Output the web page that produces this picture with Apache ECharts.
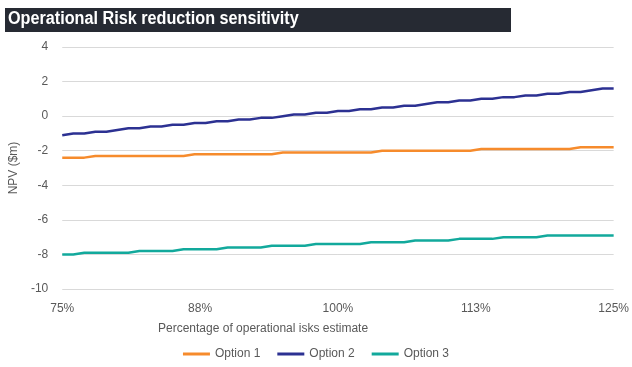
<!DOCTYPE html>
<html>
<head>
<meta charset="utf-8">
<script src="https://cdn.jsdelivr.net/npm/echarts@6/dist/echarts.min.js"></script>
<style>
  html, body { margin: 0; padding: 0; background: #ffffff; }
  #chart { width: 632px; height: 367px; }
</style>
</head>
<body>
<div id="chart"></div>
<script>
// Percentage of the operational risks estimate (x values, %)
const pctValues = [
  75, 76, 77, 78, 79, 80, 81, 82, 83, 84,
  85, 86, 87, 88, 89, 90, 91, 92, 93, 94,
  95, 96, 97, 98, 99, 100, 101, 102, 103, 104,
  105, 106, 107, 108, 109, 110, 111, 112, 113, 114,
  115, 116, 117, 118, 119, 120, 121, 122, 123, 124, 125
];

// NPV ($m) for each option
const option1 = [
  -2.4, -2.4, -2.4, -2.3, -2.3, -2.3, -2.3, -2.3, -2.3, -2.3,
  -2.3, -2.3, -2.2, -2.2, -2.2, -2.2, -2.2, -2.2, -2.2, -2.2,
  -2.1, -2.1, -2.1, -2.1, -2.1, -2.1, -2.1, -2.1, -2.1, -2.0,
  -2.0, -2.0, -2.0, -2.0, -2.0, -2.0, -2.0, -2.0, -1.9, -1.9,
  -1.9, -1.9, -1.9, -1.9, -1.9, -1.9, -1.9, -1.8, -1.8, -1.8, -1.8
];
const option2 = [
  -1.1, -1.0, -1.0, -0.9, -0.9, -0.8, -0.7, -0.7, -0.6, -0.6,
  -0.5, -0.5, -0.4, -0.4, -0.3, -0.3, -0.2, -0.2, -0.1, -0.1,
  0.0, 0.1, 0.1, 0.2, 0.2, 0.3, 0.3, 0.4, 0.4, 0.5,
  0.5, 0.6, 0.6, 0.7, 0.8, 0.8, 0.9, 0.9, 1.0, 1.0,
  1.1, 1.1, 1.2, 1.2, 1.3, 1.3, 1.4, 1.4, 1.5, 1.6, 1.6
];
const option3 = [
  -8.0, -8.0, -7.9, -7.9, -7.9, -7.9, -7.9, -7.8, -7.8, -7.8,
  -7.8, -7.7, -7.7, -7.7, -7.7, -7.6, -7.6, -7.6, -7.6, -7.5,
  -7.5, -7.5, -7.5, -7.4, -7.4, -7.4, -7.4, -7.4, -7.3, -7.3,
  -7.3, -7.3, -7.2, -7.2, -7.2, -7.2, -7.1, -7.1, -7.1, -7.1,
  -7.0, -7.0, -7.0, -7.0, -6.9, -6.9, -6.9, -6.9, -6.9, -6.9, -6.9
];

const seriesNames = ['Option 1', 'Option 2', 'Option 3'];
const seriesColors = ['#f68b2c', '#2c3192', '#12a99c'];
const seriesValues = [option1, option2, option3];

const titleText = 'Operational Risk reduction sensitivity';
const xAxisTitle = 'Percentage of operational isks estimate';
const yAxisTitle = 'NPV ($m)';

const axisFont = '"Liberation Sans", Arial, sans-serif';
const labelColor = '#595959';

const chart = echarts.init(document.getElementById('chart'), null, { renderer: 'canvas' });

chart.setOption({
  animation: false,
  backgroundColor: '#ffffff',
  graphic: [
    {
      type: 'rect',
      left: 5, top: 8,
      shape: { width: 506, height: 24 },
      style: { fill: '#262a33' },
      silent: true
    },
    {
      // condensed bold heading: squeeze horizontally
      type: 'text',
      x: 8, y: 10,
      scaleX: 0.9,
      style: {
        text: titleText,
        fill: '#ffffff',
        font: 'bold 18px "Liberation Sans Narrow", "Liberation Sans", Arial, sans-serif'
      }
    },
    {
      type: 'text',
      left: 158, top: 323,
      style: {
        text: xAxisTitle,
        fill: labelColor,
        font: '12px ' + axisFont
      }
    }
  ],
  legend: {
    bottom: 2,
    left: 'center',
    icon: 'rect',
    itemWidth: 27,
    itemHeight: 3,
    itemGap: 17,
    textStyle: { color: labelColor, fontSize: 12, fontFamily: axisFont },
    data: seriesNames
  },
  grid: { left: 62, right: 17, top: 47, bottom: 78, containLabel: false },
  xAxis: {
    type: 'value',
    min: 75,
    max: 125,
    interval: 12.5,
    axisLine: { show: false },
    axisTick: { show: false },
    splitLine: { show: false },
    axisLabel: {
      color: labelColor,
      fontSize: 12,
      fontFamily: axisFont,
      margin: 14,
      formatter: v => Math.round(v) + '%'
    }
  },
  yAxis: {
    type: 'value',
    min: -10,
    max: 4,
    interval: 2,
    name: yAxisTitle,
    nameLocation: 'middle',
    nameRotate: 90,
    nameGap: 40,
    nameTextStyle: { color: labelColor, fontSize: 12, fontFamily: axisFont },
    axisLine: { show: false },
    axisTick: { show: false },
    splitLine: { lineStyle: { color: '#d9d9d9', width: 1 } },
    axisLabel: { color: labelColor, fontSize: 12, fontFamily: axisFont, margin: 14 }
  },
  series: seriesNames.map((name, i) => ({
    name: name,
    type: 'line',
    showSymbol: false,
    color: seriesColors[i],
    lineStyle: { width: 2.5, color: seriesColors[i] },
    data: pctValues.map((p, j) => [p, seriesValues[i][j]])
  }))
});
</script>
</body>
</html>
